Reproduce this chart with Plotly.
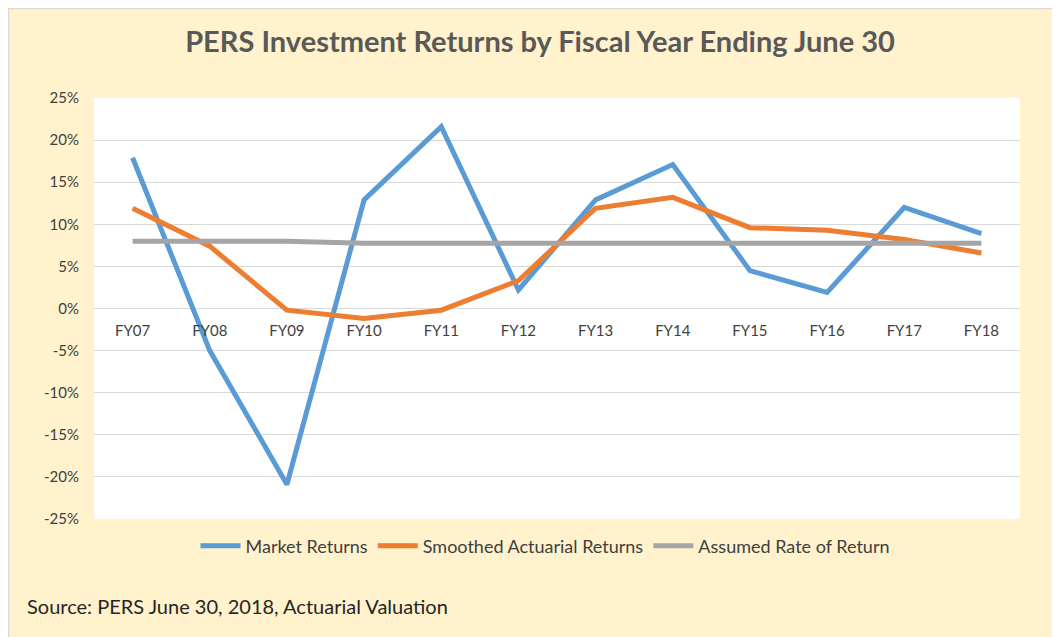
import plotly.graph_objects as go

categories = ["FY07", "FY08", "FY09", "FY10", "FY11", "FY12", "FY13", "FY14", "FY15", "FY16", "FY17", "FY18"]
market_returns = [17.9, -5.0, -20.9, 12.9, 21.6, 2.2, 12.9, 17.1, 4.5, 1.9, 12.0, 8.9]
smoothed_returns = [11.9, 7.4, -0.2, -1.2, -0.2, 3.3, 11.9, 13.2, 9.6, 9.3, 8.2, 6.6]
assumed_rate = [8.0, 8.0, 8.0, 7.75, 7.75, 7.75, 7.75, 7.75, 7.75, 7.75, 7.75, 7.75]
y_ticks = [-25, -20, -15, -10, -5, 0, 5, 10, 15, 20, 25]
y_tick_labels = [f"{v}%" for v in y_ticks]

W, H = 1060, 637
OFF = 8  # page body margin
L, T = 94 - OFF, 98 - OFF
R, B = W - (1020 - OFF), H - (519 - OFF)
pw, ph = W - L - R, H - T - B

def px_x(p):
    return (p - OFF - L) / pw

def px_y(p):
    return (H - B - (p - OFF)) / ph

fig = go.Figure()
series = [
    ("Market Returns", market_returns, "#5B9BD5"),
    ("Smoothed Actuarial Returns", smoothed_returns, "#ED7D31"),
    ("Assumed Rate of Return", assumed_rate, "#A5A5A5"),
]
for name, vals, color in series:
    fig.add_trace(go.Scatter(
        x=categories, y=vals, name=name, mode="lines",
        line=dict(color=color, width=5),
    ))

fig.update_layout(
    width=W, height=H,
    margin=dict(l=L, r=R, t=T, b=B, autoexpand=False),
    paper_bgcolor="#FFF2CC",
    plot_bgcolor="#FFFFFF",
    font=dict(family="Lato, Open Sans, sans-serif", size=15, color="#404040"),
    title=dict(
        text="<b>PERS Investment Returns by Fiscal Year Ending June 30</b>",
        x=(540 - OFF) / W, xanchor="center", xref="container",
        y=1 - (42 - OFF) / H, yanchor="middle", yref="container",
        font=dict(family="Lato, Open Sans, sans-serif", size=29, color="#595959"),
    ),
    xaxis=dict(
        type="category", range=[-0.5, 11.5],
        anchor="free", position=0.5,
        showline=False, showgrid=False, ticks="",
        tickfont=dict(size=15, color="#404040"),
        ticklabelstandoff=11,
    ),
    yaxis=dict(
        range=[-25, 25], tickvals=y_ticks, ticktext=y_tick_labels,
        showgrid=True, gridcolor="#D9D9D9", gridwidth=1,
        zeroline=False, showline=False, ticks="",
        tickfont=dict(size=15, color="#404040"),
        ticklabelstandoff=14,
    ),
    legend=dict(
        orientation="h", x=(545 - OFF) / W, xanchor="center", xref="container",
        y=1 - (546 - OFF) / H, yanchor="middle", yref="container",
        font=dict(size=18, color="#404040"),
        bgcolor="rgba(0,0,0,0)", itemwidth=40,
    ),
    showlegend=True,
)

fig.add_annotation(
    text="Source: PERS June 30, 2018, Actuarial Valuation",
    xref="paper", yref="paper", x=px_x(25), y=px_y(606),
    xanchor="left", yanchor="middle", showarrow=False,
    font=dict(family="Lato, Open Sans, sans-serif", size=20, color="#262626"),
)

# thin frame lines on top and left edge of the chart
fig.add_shape(type="line", xref="paper", yref="paper",
              x0=px_x(OFF), x1=px_x(W + OFF), y0=px_y(OFF + 0.5), y1=px_y(OFF + 0.5),
              line=dict(color="#D9D9D9", width=1.5), layer="above")
fig.add_shape(type="line", xref="paper", yref="paper",
              x0=px_x(OFF + 0.5), x1=px_x(OFF + 0.5), y0=px_y(H + OFF), y1=px_y(OFF),
              line=dict(color="#D9D9D9", width=1.5), layer="above")

fig.write_html("out.html")
